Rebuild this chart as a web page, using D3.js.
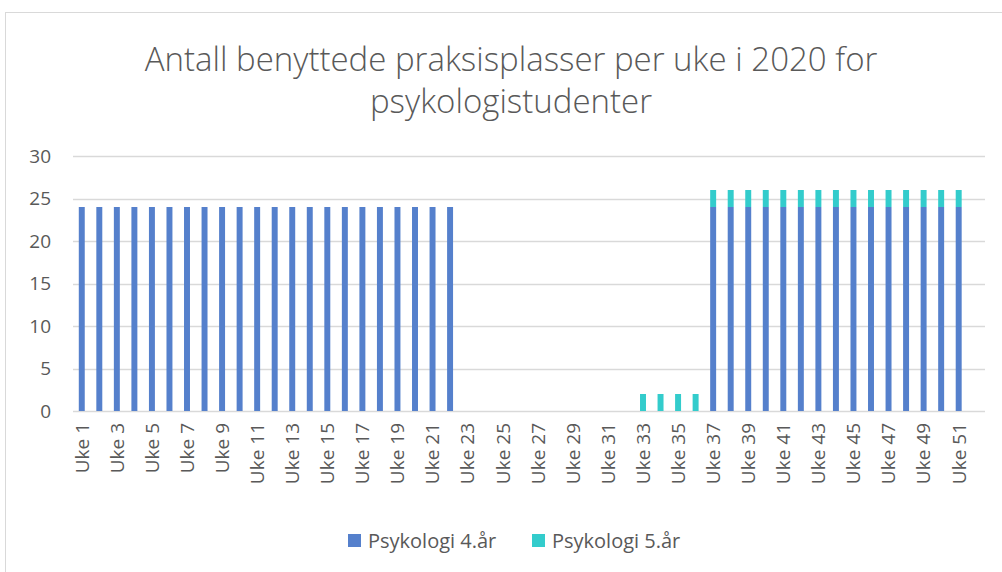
<!DOCTYPE html>
<html>
<head>
<meta charset="utf-8">
<script src="https://cdn.jsdelivr.net/npm/d3@7"></script>
<style>
  body { margin: 0; background: #fff; }
  text { font-family: "Open Sans", "Noto Sans", sans-serif; fill: #595959; }
</style>
</head>
<body>
<svg id="chart" width="1002" height="572"></svg>
<script>
//----- DATA ---------------------------------------//
var weeks = d3.range(1, 53).map(function (w) { return 'Uke ' + w; });
var seriesNames = ['Psykologi 4.år', 'Psykologi 5.år'];
var colors = ['#5580CC', '#33CCCC'];
var psyk4 = [24,24,24,24,24,24,24,24,24,24,24,24,24,24,24,24,24,24,24,24,24,24,
             0,0,0,0,0,0,0,0,0,0,0,0,0,0,
             24,24,24,24,24,24,24,24,24,24,24,24,24,24,24,0];
var psyk5 = [0,0,0,0,0,0,0,0,0,0,0,0,0,0,0,0,0,0,0,0,0,0,
             0,0,0,0,0,0,0,0,0,0,2,2,2,2,
             2,2,2,2,2,2,2,2,2,2,2,2,2,2,2,0];
var yTicks = [0, 5, 10, 15, 20, 25, 30];

//----- LAYOUT -------------------------------------//
var svg = d3.select('#chart');
var plot = { left: 73, right: 985, top: 156, bottom: 411 };

svg.append('rect')
    .attr('x', 5.5).attr('y', 12.5)
    .attr('width', 1010).attr('height', 600)
    .attr('fill', '#fff').attr('stroke', '#d9d9d9');

// Title
var title = svg.append('text')
    .attr('text-anchor', 'middle')
    .style('font-size', '33px')
    .style('font-weight', 300);
title.append('tspan').attr('x', 511).attr('y', 71).text('Antall benyttede praksisplasser per uke i 2020 for');
title.append('tspan').attr('x', 511).attr('y', 113).text('psykologistudenter');

var x = d3.scaleBand().domain(weeks).range([plot.left, plot.right]).paddingInner(0.66).paddingOuter(0.33);
var y = d3.scaleLinear().domain([0, 30]).range([plot.bottom, plot.top]);

// Gridlines
svg.append('g').selectAll('line')
    .data(yTicks).enter()
    .append('line')
        .attr('x1', plot.left).attr('x2', plot.right)
        .attr('y1', function (d) { return Math.round(y(d)) + 0.5; })
        .attr('y2', function (d) { return Math.round(y(d)) + 0.5; })
        .attr('stroke', '#d9d9d9').attr('stroke-width', 1.5);

// Y axis labels
svg.append('g').selectAll('text')
    .data(yTicks).enter()
    .append('text')
        .attr('x', 51)
        .attr('y', function (d) { return y(d); })
        .attr('dy', '0.36em')
        .attr('text-anchor', 'end')
        .style('font-size', '19px')
        .text(function (d) { return d; });

// Stacked bars
var rows = weeks.map(function (w, i) { return { week: w, a: psyk4[i], b: psyk5[i] }; });
var stack = d3.stack().keys(['a', 'b'])(rows);

svg.append('g').selectAll('g')
    .data(stack).enter()
    .append('g')
        .attr('fill', function (d, i) { return colors[i]; })
    .selectAll('rect')
    .data(function (d) { return d; }).enter()
    .append('rect')
        .attr('x', function (d) { return x(d.data.week); })
        .attr('width', x.bandwidth())
        .attr('y', function (d) { return y(d[1]); })
        .attr('height', function (d) { return y(d[0]) - y(d[1]); });

// X axis labels (every other week)
svg.append('g').selectAll('text')
    .data(weeks.filter(function (d, i) { return i % 2 === 0; })).enter()
    .append('text')
        .attr('transform', function (d) {
            return 'translate(' + (x(d) + x.bandwidth() / 2) + ',' + 423 + ') rotate(-90)';
        })
        .attr('dy', '0.36em')
        .attr('text-anchor', 'end')
        .style('font-size', '19px')
        .text(function (d) { return d; });

// Legend
var legend = svg.append('g').selectAll('g')
    .data(seriesNames).enter()
    .append('g')
        .attr('transform', function (d, i) { return 'translate(' + (348 + i * 184) + ',534)'; });
legend.append('rect')
    .attr('width', 13).attr('height', 13)
    .attr('fill', function (d, i) { return colors[i]; });
legend.append('text')
    .attr('x', 20).attr('y', 7).attr('dy', '0.36em')
    .style('font-size', '20px')
    .text(function (d) { return d; });
</script>
</body>
</html>
